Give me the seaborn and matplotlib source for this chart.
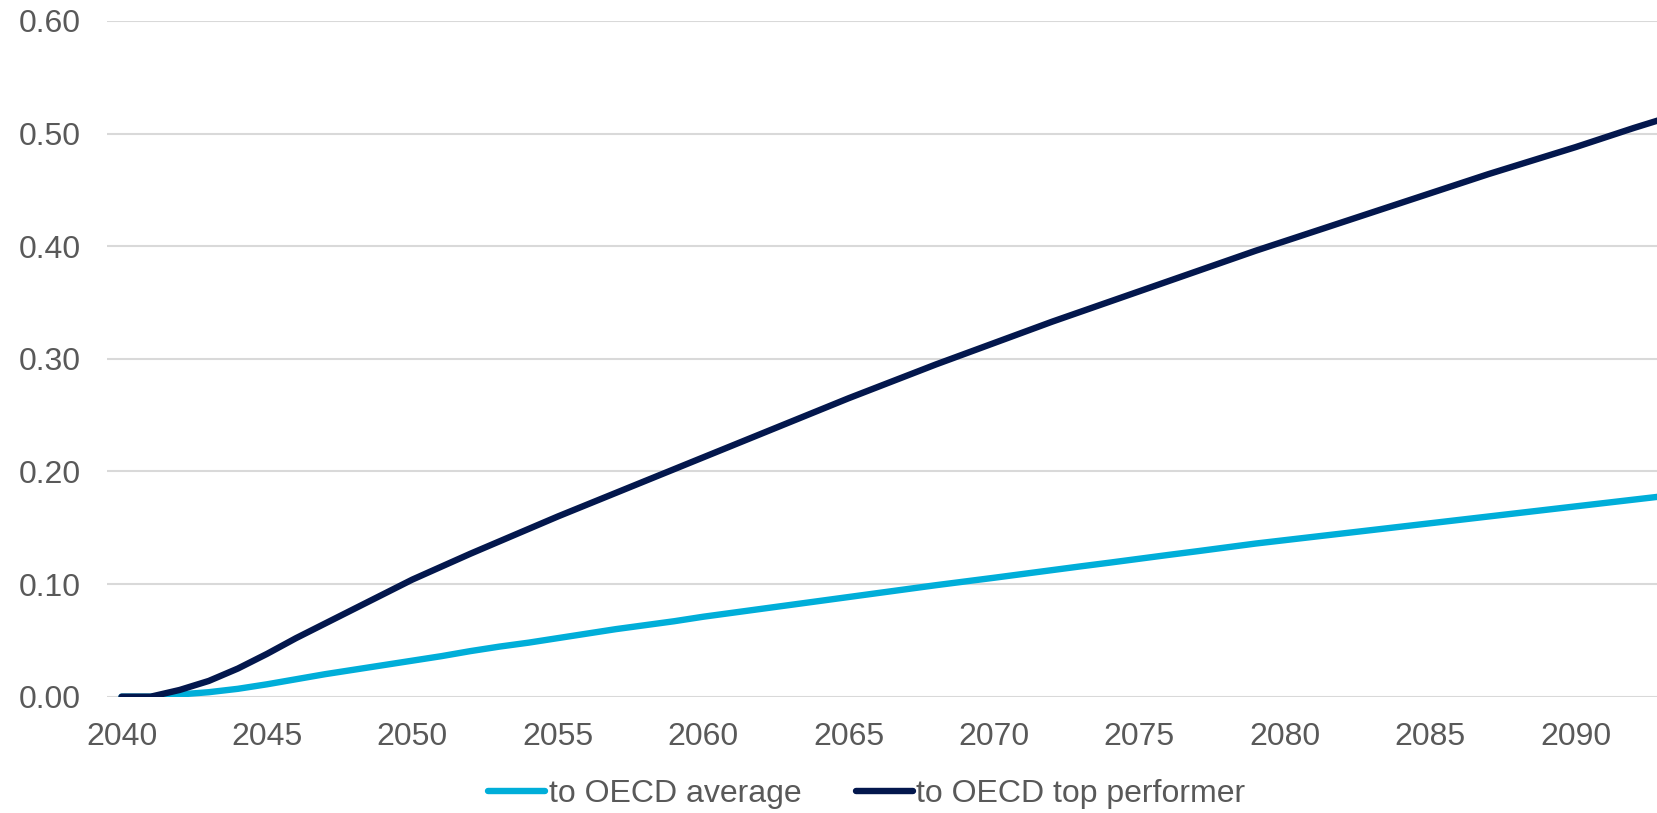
import matplotlib
matplotlib.use("Agg")
import matplotlib.pyplot as plt
import seaborn as sns
import pandas as pd
from matplotlib.ticker import FuncFormatter, MultipleLocator
from matplotlib.lines import Line2D

years = list(range(2040, 2094))

to_oecd_average = [
    0.000, 0.000, 0.002, 0.004, 0.007, 0.011, 0.0155, 0.020, 0.024, 0.028,
    0.032, 0.036, 0.0405, 0.0445, 0.048, 0.052, 0.056, 0.060, 0.0635, 0.067,
    0.071, 0.0745, 0.078, 0.0815, 0.085, 0.0885, 0.092, 0.0955, 0.099, 0.1023,
    0.1056, 0.1090, 0.1124, 0.1158, 0.1191, 0.1225, 0.1259, 0.1292, 0.1326, 0.136,
    0.139, 0.142, 0.145, 0.148, 0.151, 0.154, 0.157, 0.160, 0.163, 0.166,
    0.169, 0.172, 0.175, 0.178,
]

to_oecd_top = [
    0.000, 0.000, 0.006, 0.014, 0.025, 0.038, 0.052, 0.065, 0.078, 0.091,
    0.104, 0.1155, 0.127, 0.138, 0.149, 0.160, 0.1705, 0.181, 0.1915, 0.202,
    0.2125, 0.223, 0.2335, 0.244, 0.2545, 0.265, 0.275, 0.285, 0.295, 0.3045,
    0.314, 0.3235, 0.333, 0.342, 0.351, 0.360, 0.369, 0.378, 0.387, 0.396,
    0.4045, 0.413, 0.4215, 0.430, 0.4385, 0.447, 0.4555, 0.464, 0.472, 0.480,
    0.488, 0.4965, 0.505, 0.513,
]

series_names = ["to OECD average", "to OECD top performer"]
series_colors = ["#00AED9", "#03174D"]

df = pd.DataFrame({
    "year": years * 2,
    "value": to_oecd_average + to_oecd_top,
    "series": [series_names[0]] * len(years) + [series_names[1]] * len(years),
})

sns.set_theme(style="white")
plt.rcParams["font.family"] = ["Liberation Sans", "DejaVu Sans"]

fig = plt.figure(figsize=(16.57, 8.13), dpi=100)
W, H = 1657, 813
left, right, top, bottom = 107, 1657, 21, 696.7
ax = fig.add_axes([left / W, 1 - bottom / H, (right - left) / W, (bottom - top) / H])

sns.lineplot(data=df, x="year", y="value", hue="series", hue_order=series_names,
             palette=series_colors, linewidth=4.6, ax=ax, legend=False,
             solid_capstyle="round", solid_joinstyle="round")

ax.set_xlim(2039.5, 2092.8)
ax.set_ylim(0, 0.6)
ax.yaxis.set_major_locator(MultipleLocator(0.1))
ax.xaxis.set_major_locator(MultipleLocator(5))
ax.yaxis.set_major_formatter(FuncFormatter(lambda v, p: f"{v:.2f}"))
ax.xaxis.set_major_formatter(FuncFormatter(lambda v, p: f"{int(round(v))}"))
ax.grid(axis="y", color="#D9D9D9", linewidth=1.5)
ax.grid(axis="x", visible=False)
ax.set_axisbelow(True)
for s in ax.spines.values():
    s.set_visible(False)
ax.tick_params(axis="both", length=0, labelsize=23, labelcolor="#595959")
ax.tick_params(axis="y", pad=19)
ax.tick_params(axis="x", pad=18)
ax.set_xlabel("")
ax.set_ylabel("")

handles = [Line2D([0], [0], color=c, linewidth=4.6, solid_capstyle="round") for c in series_colors]
leg = fig.legend(handles, series_names, loc="center", bbox_to_anchor=(0.523, 1 - 794 / H),
                 ncol=2, frameon=False, fontsize=23, handlelength=1.8, handletextpad=0.1,
                 columnspacing=1.7)
for t in leg.get_texts():
    t.set_color("#595959")

fig.savefig("out.png", dpi=100)
